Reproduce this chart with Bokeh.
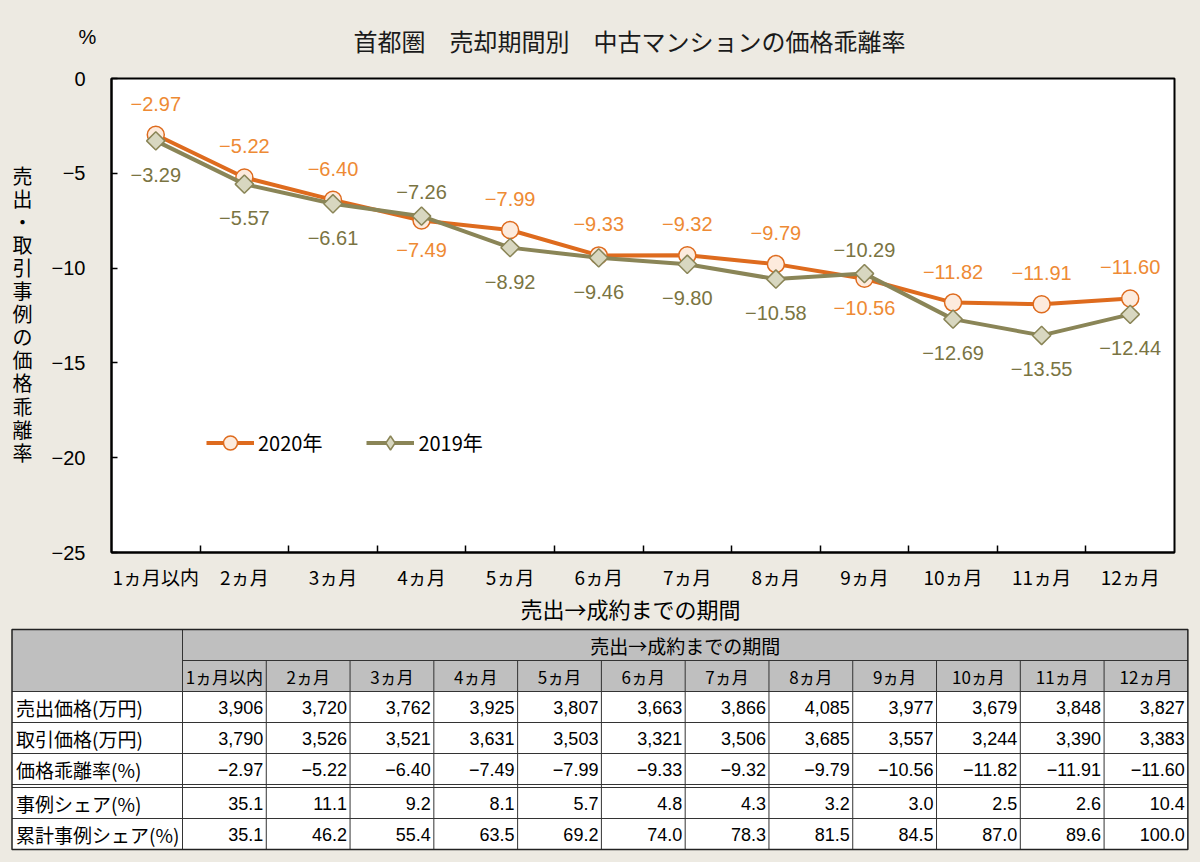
import numpy as np
from bokeh.plotting import figure
from bokeh.models import Range1d, FixedTicker, ColumnDataSource, Legend, LegendItem
from bokeh.layouts import column, row
from bokeh.embed import file_html
from bokeh.resources import INLINE
from bokeh.core.properties import value

# ---------------- data ----------------
categories = ["1ヵ月以内", "2ヵ月", "3ヵ月", "4ヵ月", "5ヵ月", "6ヵ月",
              "7ヵ月", "8ヵ月", "9ヵ月", "10ヵ月", "11ヵ月", "12ヵ月"]
rate_2020 = [-2.97, -5.22, -6.40, -7.49, -7.99, -9.33, -9.32, -9.79, -10.56, -11.82, -11.91, -11.60]
rate_2019 = [-3.29, -5.57, -6.61, -7.26, -8.92, -9.46, -9.80, -10.58, -10.29, -12.69, -13.55, -12.44]
list_price = [3906, 3720, 3762, 3925, 3807, 3663, 3866, 4085, 3977, 3679, 3848, 3827]
deal_price = [3790, 3526, 3521, 3631, 3503, 3321, 3506, 3685, 3557, 3244, 3390, 3383]
case_share = [35.1, 11.1, 9.2, 8.1, 5.7, 4.8, 4.3, 3.2, 3.0, 2.5, 2.6, 10.4]
cum_share = [35.1, 46.2, 55.4, 63.5, 69.2, 74.0, 78.3, 81.5, 84.5, 87.0, 89.6, 100.0]
y_ticks = [0, -5, -10, -15, -20, -25]
series_names = ["2020年", "2019年"]
row_labels = ["売出価格(万円)", "取引価格(万円)", "価格乖離率(%)", "事例シェア(%)", "累計事例シェア(%)"]
table_header = "売出→成約までの期間"
title_text = "首都圏　売却期間別　中古マンションの価格乖離率"
unit_text = "%"
y_label = "売出・取引事例の価格乖離率"
x_label = "売出→成約までの期間"
# indices where the 2020 label sits below its point (and 2019 above)
swap_idx = [3, 8]

# ---------------- style ----------------
BG = "#EDEAE2"
ORANGE = "#DE6B1E"
ORANGE_FILL = "#FDEBDD"
ORANGE_TXT = "#EE8A34"
OLIVE = "#8A8557"
OLIVE_FILL = "#D8D7C0"
OLIVE_TXT = "#7A7442"
JP = "Noto Sans CJK JP"
NUM = "Liberation Sans"
W = 1192
HH = 58      # header height
CH = 534     # chart row height
TH = 262     # lower part: x-axis title + table
SW = 48      # side (y label) width


def mfmt(v, d):
    return f"{v:.{d}f}".replace("-", "\u2212")


def no_align(fig):
    try:
        fig.frame_align = False
    except Exception:
        pass


def blank(width, height, xr, yr):
    f = figure(width=width, height=height, x_range=Range1d(*xr), y_range=Range1d(*yr),
               output_backend="svg", toolbar_location=None, min_border=0,
               x_axis_type=None, y_axis_type=None,
               background_fill_color=BG, border_fill_color=None, outline_line_color=None)
    f.xgrid.grid_line_color = None
    f.ygrid.grid_line_color = None
    no_align(f)
    return f


n = len(categories)
xs = [i + 0.5 for i in range(n)]

# ---------------- header (title, unit) ----------------
hd = blank(W, HH, (0, W), (HH, 0))
hd.text(x=[629], y=[40], text=[title_text], text_font=value(JP), text_font_size="24px",
        text_color="#1a1a1a", text_align="center", text_baseline="middle")
hd.text(x=[87], y=[36], text=[unit_text], text_font=value(NUM), text_font_size="20px",
        text_color="black", text_align="center", text_baseline="middle")

# ---------------- side (vertical y label) ----------------
sd = blank(SW, CH, (0, SW), (HH + CH, HH))
chars = list(y_label)
sd.text(x=[22] * len(chars), y=[175 + 23.05 * k for k in range(len(chars))], text=chars,
        text_font=value(JP), text_font_size="20px", text_color="black",
        text_align="center", text_baseline="middle")

# ---------------- chart ----------------
p = figure(width=W - SW, height=CH, x_range=Range1d(0, n), y_range=Range1d(-25, 0),
           output_backend="svg", toolbar_location=None,
           min_border_left=62, min_border_right=18, min_border_top=20, min_border_bottom=39,
           background_fill_color="white", border_fill_color=BG,
           outline_line_color="black", outline_line_width=2)
no_align(p)
p.xgrid.grid_line_color = None
p.ygrid.grid_line_color = None

p.yaxis.ticker = FixedTicker(ticks=y_ticks)
p.yaxis.major_label_overrides = {t: mfmt(t, 0) for t in y_ticks}
p.yaxis.major_tick_in = 6
p.yaxis.major_tick_out = 0
p.yaxis.minor_tick_line_color = None
p.yaxis.axis_line_width = 2
p.yaxis.major_tick_line_width = 1.5
p.yaxis.major_label_standoff = 26
p.yaxis.major_label_text_font = NUM
p.yaxis.major_label_text_font_size = "20px"
p.yaxis.major_label_text_color = "black"

p.xaxis.ticker = FixedTicker(ticks=xs, minor_ticks=list(range(1, n)))
p.xaxis.major_label_overrides = {x: c for x, c in zip(xs, categories)}
p.xaxis.major_tick_line_color = None
p.xaxis.major_tick_in = 0
p.xaxis.major_tick_out = 0
p.xaxis.minor_tick_in = 7
p.xaxis.minor_tick_out = 0
p.xaxis.minor_tick_line_width = 1.5
p.xaxis.minor_tick_line_color = "black"
p.xaxis.axis_line_width = 2
p.xaxis.major_label_standoff = 10
p.xaxis.major_label_text_font = JP
p.xaxis.major_label_text_font_size = "19px"
p.xaxis.major_label_text_color = "black"

src = ColumnDataSource(dict(x=xs, r20=rate_2020, r19=rate_2019))
l20 = p.line("x", "r20", source=src, line_color=ORANGE, line_width=4)
m20 = p.scatter("x", "r20", source=src, marker="circle", size=17,
                fill_color=ORANGE_FILL, line_color=ORANGE, line_width=1.5)
l19 = p.line("x", "r19", source=src, line_color=OLIVE, line_width=4)
# diamond used for the legend glyph (hidden under the rotated squares in the plot)
k19 = p.scatter("x", "r19", source=src, marker="diamond", size=16,
                fill_color=OLIVE_FILL, line_color=OLIVE, line_width=1.5)
m19 = p.scatter("x", "r19", source=src, marker="square", angle=np.pi / 4, size=13,
                fill_color=OLIVE_FILL, line_color=OLIVE, line_width=1.5)

off20 = [29 if i in swap_idx else -31 for i in range(n)]
off19 = [-24 if i in swap_idx else 34 for i in range(n)]
lab20 = ColumnDataSource(dict(x=xs, y=rate_2020, t=[mfmt(v, 2) for v in rate_2020], dy=off20))
lab19 = ColumnDataSource(dict(x=xs, y=rate_2019, t=[mfmt(v, 2) for v in rate_2019], dy=off19))
p.text("x", "y", text="t", y_offset="dy", source=lab20, text_color=ORANGE_TXT,
       text_font=value(NUM), text_font_size="20px", text_align="center", text_baseline="middle")
p.text("x", "y", text="t", y_offset="dy", source=lab19, text_color=OLIVE_TXT,
       text_font=value(NUM), text_font_size="20px", text_align="center", text_baseline="middle")

legend = Legend(items=[LegendItem(label=series_names[0], renderers=[l20, m20]),
                       LegendItem(label=series_names[1], renderers=[l19, k19])],
                location=(95, 92), orientation="horizontal",
                background_fill_alpha=0, border_line_color=None, padding=0, margin=0,
                spacing=44, glyph_width=48, glyph_height=35, label_standoff=4,
                label_height=20, label_text_font=JP, label_text_font_size="20px",
                label_text_color="black")
p.add_layout(legend)

# ---------------- lower part: x-axis title + table ----------------
t = blank(W, TH, (0, W), (TH, 0))
t.text(x=[630], y=[15], text=[x_label], text_font=value(JP), text_font_size="22px",
       text_color="black", text_align="center", text_baseline="middle")

left = 11.5
lab_w = 170.5
col_w = 83.78
right = left + lab_w + col_w * n
c0 = left + lab_w
top = 37
rh = 31
gap = 3
h1 = (top, top + rh)
h2 = (top + rh, top + 2 * rh)
rows = []
y = top + 2 * rh
for k in range(5):
    if k == 3:
        y += gap
    rows.append((y, y + rh))
    y += rh
bottom = rows[-1][1]

t.quad(left=[left], right=[right], top=[h1[0]], bottom=[h2[1]], fill_color="#BFBFBF", line_color=None)
t.quad(left=[left], right=[right], top=[h2[1]], bottom=[bottom], fill_color="white", line_color=None)

hx0, hy0, hx1, hy1 = [], [], [], []
for yy in [h2[1]] + [r[0] for r in rows] + [r[1] for r in rows]:
    hx0.append(left); hx1.append(right); hy0.append(yy); hy1.append(yy)
hx0.append(c0); hx1.append(right); hy0.append(h1[1]); hy1.append(h1[1])
for k in range(1, n):
    xx = c0 + col_w * k
    hx0.append(xx); hx1.append(xx); hy0.append(h2[0]); hy1.append(bottom)
hx0.append(c0); hx1.append(c0); hy0.append(top); hy1.append(bottom)
t.segment(x0=hx0, y0=hy0, x1=hx1, y1=hy1, line_color="#333333", line_width=1)
t.quad(left=[left], right=[right], top=[top], bottom=[bottom], fill_color=None,
       line_color="#222222", line_width=1.5)

t.text(x=[(c0 + right) / 2], y=[sum(h1) / 2], text=[table_header], text_font=value(JP),
       text_font_size="19px", text_align="center", text_baseline="middle", text_color="black")
t.text(x=[c0 + col_w * (k + 0.5) for k in range(n)], y=[sum(h2) / 2] * n, text=categories,
       text_font=value(JP), text_font_size="17px", text_align="center", text_baseline="middle",
       text_color="black")

row_values = [
    [f"{v:,}" for v in list_price],
    [f"{v:,}" for v in deal_price],
    [mfmt(v, 2) for v in rate_2020],
    [f"{v:.1f}" for v in case_share],
    [f"{v:.1f}" for v in cum_share],
]
t.text(x=[left + 4] * 5, y=[sum(r) / 2 for r in rows], text=row_labels, text_font=value(JP),
       text_font_size="19px", text_align="left", text_baseline="middle", text_color="black")
vx, vy, vt = [], [], []
for r, vals in zip(rows, row_values):
    for k, s in enumerate(vals):
        vx.append(c0 + col_w * (k + 1) - 3)
        vy.append(sum(r) / 2)
        vt.append(s)
t.text(x=vx, y=vy, text=vt, text_font=value(NUM), text_font_size="18px", text_align="right",
       text_baseline="middle", text_color="black")

layout = column(hd, row(sd, p, spacing=0), t, spacing=0)
# beige page background, so the page margin and the seams between canvases match
try:
    from bokeh.models import GlobalInlineStyleSheet
    layout.stylesheets = [GlobalInlineStyleSheet(css=f"html, body {{ background-color: {BG}; }}")]
except Exception:
    pass

open("out.html", "w").write(file_html(layout, INLINE))
